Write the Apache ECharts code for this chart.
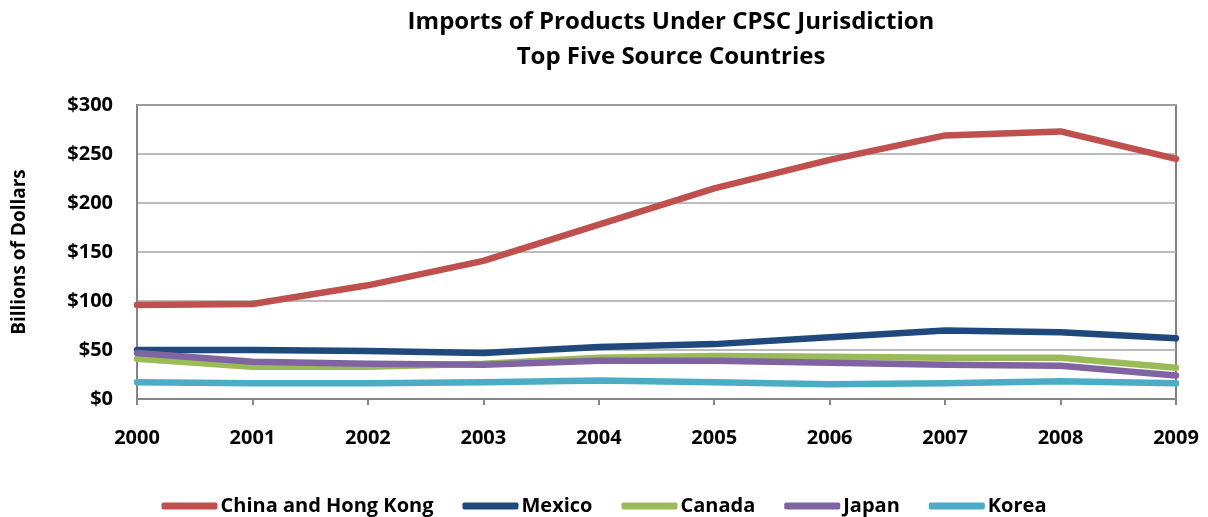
<!DOCTYPE html>
<html>
<head>
<meta charset="utf-8">
<script src="https://cdn.jsdelivr.net/npm/echarts@6/dist/echarts.min.js"></script>
<style>html,body{margin:0;padding:0;background:#fff}#c{width:1208px;height:517px}</style>
</head>
<body>
<div id="c"></div>
<script>
const years = ['2000','2001','2002','2003','2004','2005','2006','2007','2008','2009'];
const china  = [96, 97, 116, 141, 178, 215, 244, 269, 273, 245];
const mexico = [50, 50, 49, 47, 53, 56, 63, 70, 68, 62];
const canada = [41, 33, 33, 36, 42, 44, 43, 42, 42, 32];
const japan  = [47, 38, 36, 35, 39, 39, 37, 35, 34, 24];
const korea  = [17, 16, 16, 17, 19, 17, 15, 16, 18, 16];
const seriesNames = ['China and Hong Kong','Mexico','Canada','Japan','Korea'];
const colors = ['#C0504D','#1F497D','#9BBB59','#8064A2','#4BACC6'];
const dataSets = [china, mexico, canada, japan, korea];
const FONT = '"Open Sans", sans-serif';

const chart = echarts.init(document.getElementById('c'));
chart.setOption({
  animation: false,
  color: colors,
  title: {
    text: 'Imports of Products Under CPSC Jurisdiction\nTop Five Source Countries',
    left: 666, textAlign: 'center', top: 0,
    textStyle: {fontFamily: FONT, fontWeight: 'bold', fontSize: 24, lineHeight: 35, color: '#000'}
  },
  legend: {
    top: 491, left: 'center', itemWidth: 56, itemHeight: 7, itemGap: 29,
    icon: 'roundRect',
    textStyle: {fontFamily: FONT, fontWeight: 'bold', fontSize: 20, color: '#000', padding: [0, 0, 0, -2]},
    data: seriesNames
  },
  grid: {left: 137, right: 32, top: 105, bottom: 118, show: true, borderColor: '#595959', borderWidth: 1.5},
  xAxis: {
    type: 'category', data: years, boundaryGap: false,
    axisLine: {lineStyle: {color: '#868686', width: 2}},
    axisTick: {show: true, length: 6, lineStyle: {color: '#868686', width: 2}},
    axisLabel: {fontFamily: FONT, fontWeight: 'bold', fontSize: 20, color: '#000', margin: 29}
  },
  yAxis: {
    type: 'value', min: 0, max: 300, interval: 50,
    name: 'Billions of Dollars', nameLocation: 'middle', nameGap: 108, nameRotate: 90,
    nameTextStyle: {fontFamily: FONT, fontWeight: 'bold', fontSize: 19, color: '#000'},
    axisLine: {show: true, lineStyle: {color: '#868686', width: 2}},
    axisTick: {show: false},
    splitLine: {lineStyle: {color: '#a6a6a6', width: 1.5}},
    axisLabel: {fontFamily: FONT, fontWeight: 'bold', fontSize: 20, color: '#000', margin: 24,
      formatter: v => '$' + v}
  },
  series: dataSets.map((d, i) => ({
    name: seriesNames[i], type: 'line', data: d, symbol: 'none',
    lineStyle: {width: 6.5, color: colors[i], cap: 'round', join: 'round'}
  }))
});
</script>
</body>
</html>
